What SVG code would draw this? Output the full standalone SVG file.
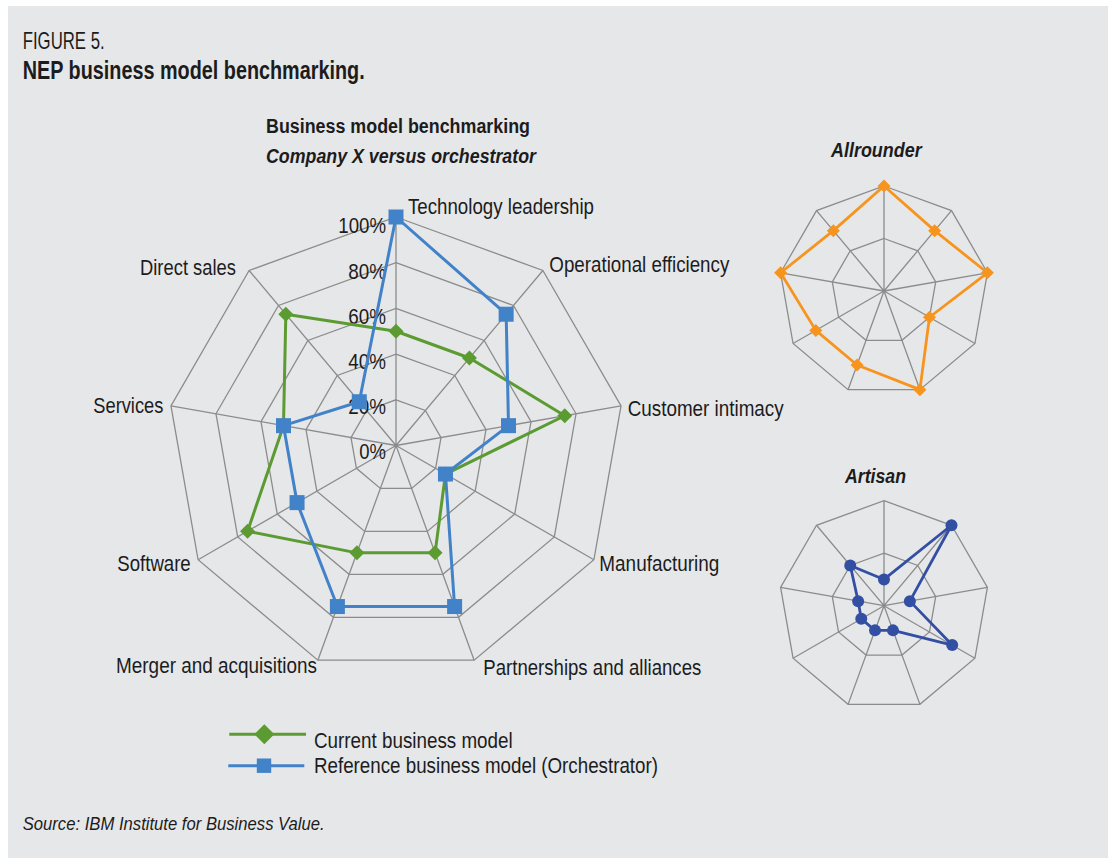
<svg xmlns="http://www.w3.org/2000/svg" xmlns:xlink="http://www.w3.org/1999/xlink" width="1115" height="861" viewBox="0 0 1115 861">
<style>
  text { font-family: "Liberation Sans Narrow", "Liberation Sans", Arial, sans-serif; font-stretch: condensed; fill: #1c1c1c; }
  .lbl { font-size: 22px; }
  .pct { font-size: 22px; text-anchor: end; }
  .sub { font-size: 19.5px; font-weight: bold; }
  .grid { fill: none; stroke: #8c8c8c; stroke-width: 1.3; }
  .gser { fill: none; stroke: #5b9b32; stroke-width: 3; stroke-linejoin: round; }
  .bser { fill: none; stroke: #4282c8; stroke-width: 3; stroke-linejoin: round; }
  .oser { fill: none; stroke: #f7941e; stroke-width: 2.8; stroke-linejoin: round; }
  .aser { fill: none; stroke: #324fa4; stroke-width: 2.8; stroke-linejoin: round; }
</style>
<defs>
  <path id="dia" d="M0,-7.5 L7.5,0 L0,7.5 L-7.5,0 Z" fill="#5b9b32"/>
  <rect id="sq" x="-7.5" y="-7.5" width="15" height="15" fill="#4282c8"/>
  <path id="odia" d="M0,-6.5 L6.5,0 L0,6.5 L-6.5,0 Z" fill="#f7941e"/>
  <circle id="dot" r="6" fill="#324fa4"/>
  <g id="smallgrid" class="grid">
    <polygon points="0,-105 67.49,-80.43 103.40,-18.23 90.93,52.5 35.91,98.67 -35.91,98.67 -90.93,52.5 -103.40,-18.23 -67.49,-80.43"/>
    <polygon points="0,-52.5 33.75,-40.22 51.70,-9.12 45.47,26.25 17.96,49.33 -17.96,49.33 -45.47,26.25 -51.70,-9.12 -33.75,-40.22"/>
    <path d="M0,0 L0,-105 M0,0 L67.49,-80.43 M0,0 L103.40,-18.23 M0,0 L90.93,52.5 M0,0 L35.91,98.67 M0,0 L-35.91,98.67 M0,0 L-90.93,52.5 M0,0 L-103.40,-18.23 M0,0 L-67.49,-80.43"/>
  </g>
</defs>

<rect x="0" y="0" width="1115" height="861" fill="#ffffff"/>
<rect id="panel" x="8" y="6" width="1100" height="852" fill="#e6e7e9"/>

<g id="titles">
  <text x="22.7" y="49" font-size="24" textLength="82" lengthAdjust="spacingAndGlyphs">FIGURE 5.</text>
  <text x="22.7" y="78.5" font-size="25" font-weight="bold" textLength="342" lengthAdjust="spacingAndGlyphs">NEP business model benchmarking.</text>
  <text class="sub" x="266" y="133.3" textLength="264" lengthAdjust="spacingAndGlyphs">Business model benchmarking</text>
  <text class="sub" x="266" y="163.3" font-style="italic" textLength="270" lengthAdjust="spacingAndGlyphs">Company X versus orchestrator</text>
</g>

<g id="main-radar">
  <g id="main-grid" class="grid">
    <polygon points="396,217 542.88,270.46 621.03,405.82 593.89,559.75 474.15,660.22 317.85,660.22 198.11,559.75 170.97,405.82 249.12,270.46"/>
    <polygon points="396,262.7 513.50,305.47 576.02,413.76 554.31,536.9 458.52,617.28 333.48,617.28 237.69,536.9 215.98,413.76 278.50,305.47"/>
    <polygon points="396,308.4 484.13,340.48 531.02,421.69 514.73,514.05 442.89,574.33 349.11,574.33 277.27,514.05 260.98,421.69 307.87,340.48"/>
    <polygon points="396,354.1 454.75,375.48 486.01,429.63 475.16,491.2 427.26,531.39 364.74,531.39 316.84,491.2 305.99,429.63 337.25,375.48"/>
    <polygon points="396,399.8 425.38,410.49 441.01,437.56 435.58,468.35 411.63,488.44 380.37,488.44 356.42,468.35 350.99,437.56 366.62,410.49"/>
    <path d="M396,445.5 L396,217 M396,445.5 L542.88,270.46 M396,445.5 L621.03,405.82 M396,445.5 L593.89,559.75 M396,445.5 L474.15,660.22 M396,445.5 L317.85,660.22 M396,445.5 L198.11,559.75 M396,445.5 L170.97,405.82 M396,445.5 L249.12,270.46"/>
  </g>
  <g id="pct-labels">
    <text class="pct" x="386" y="233.3" textLength="47.7" lengthAdjust="spacingAndGlyphs">100%</text>
    <text class="pct" x="386" y="278.5" textLength="37.7" lengthAdjust="spacingAndGlyphs">80%</text>
    <text class="pct" x="386" y="323.7" textLength="37.7" lengthAdjust="spacingAndGlyphs">60%</text>
    <text class="pct" x="386" y="369" textLength="37.7" lengthAdjust="spacingAndGlyphs">40%</text>
    <text class="pct" x="386" y="414.2" textLength="37.7" lengthAdjust="spacingAndGlyphs">20%</text>
    <text class="pct" x="386" y="459.4" textLength="26.7" lengthAdjust="spacingAndGlyphs">0%</text>
  </g>
  <g id="series-current">
    <polygon class="gser" points="396,331.25 469.44,357.98 564.77,415.74 445.47,474.06 435.08,552.86 356.92,552.86 247.59,531.19 283.49,425.66 285.84,314.22"/>
    <use href="#dia" x="396" y="331.25"/>
    <use href="#dia" x="469.44" y="357.98"/>
    <use href="#dia" x="564.77" y="415.74"/>
    <use href="#dia" x="445.47" y="474.06"/>
    <use href="#dia" x="435.08" y="552.86"/>
    <use href="#dia" x="356.92" y="552.86"/>
    <use href="#dia" x="247.59" y="531.19"/>
    <use href="#dia" x="283.49" y="425.66"/>
    <use href="#dia" x="285.84" y="314.22"/>
  </g>
  <g id="series-reference">
    <polygon class="bser" points="396,217 506.16,314.22 508.51,425.66 445.47,474.06 454.61,606.54 337.39,606.54 297.06,502.63 283.49,425.66 359.28,401.74"/>
    <use href="#sq" x="396" y="217"/>
    <use href="#sq" x="506.16" y="314.22"/>
    <use href="#sq" x="508.51" y="425.66"/>
    <use href="#sq" x="445.47" y="474.06"/>
    <use href="#sq" x="454.61" y="606.54"/>
    <use href="#sq" x="337.39" y="606.54"/>
    <use href="#sq" x="297.06" y="502.63"/>
    <use href="#sq" x="283.49" y="425.66"/>
    <use href="#sq" x="359.28" y="401.74"/>
  </g>
  <g id="axis-labels">
    <text class="lbl" x="408" y="214" textLength="186" lengthAdjust="spacingAndGlyphs">Technology leadership</text>
    <text class="lbl" x="549.3" y="271.7" textLength="180" lengthAdjust="spacingAndGlyphs">Operational efficiency</text>
    <text class="lbl" x="627.7" y="416" textLength="156" lengthAdjust="spacingAndGlyphs">Customer intimacy</text>
    <text class="lbl" x="599.3" y="570.7" textLength="120" lengthAdjust="spacingAndGlyphs">Manufacturing</text>
    <text class="lbl" x="483.3" y="675" textLength="218" lengthAdjust="spacingAndGlyphs">Partnerships and alliances</text>
    <text class="lbl" x="116" y="673.3" textLength="201" lengthAdjust="spacingAndGlyphs">Merger and acquisitions</text>
    <text class="lbl" x="117.3" y="570.7" textLength="73.4" lengthAdjust="spacingAndGlyphs">Software</text>
    <text class="lbl" x="93.3" y="412.7" textLength="70" lengthAdjust="spacingAndGlyphs">Services</text>
    <text class="lbl" x="140" y="275" textLength="96" lengthAdjust="spacingAndGlyphs">Direct sales</text>
  </g>
</g>

<g id="allrounder">
  <text class="sub" x="831" y="156.7" font-style="italic" textLength="90.7" lengthAdjust="spacingAndGlyphs">Allrounder</text>
  <g transform="translate(884,291)">
    <use href="#smallgrid"/>
    <polygon class="oser" points="0,-105 50.62,-60.33 103.40,-18.23 45.47,26.25 35.91,98.67 -26.93,74.0 -68.20,39.375 -103.40,-18.23 -50.62,-60.33"/>
    <use href="#odia" x="0" y="-105"/>
    <use href="#odia" x="50.62" y="-60.33"/>
    <use href="#odia" x="103.40" y="-18.23"/>
    <use href="#odia" x="45.47" y="26.25"/>
    <use href="#odia" x="35.91" y="98.67"/>
    <use href="#odia" x="-26.93" y="74.0"/>
    <use href="#odia" x="-68.20" y="39.375"/>
    <use href="#odia" x="-103.40" y="-18.23"/>
    <use href="#odia" x="-50.62" y="-60.33"/>
  </g>
</g>

<g id="artisan">
  <text class="sub" x="845" y="482.7" font-style="italic" textLength="61" lengthAdjust="spacingAndGlyphs">Artisan</text>
  <g transform="translate(884,605.7)">
    <use href="#smallgrid"/>
    <polygon class="aser" points="0,-26.25 67.49,-80.43 25.85,-4.56 68.20,39.375 8.98,24.67 -8.98,24.67 -22.73,13.125 -25.85,-4.56 -33.75,-40.22"/>
    <use href="#dot" x="0" y="-26.25"/>
    <use href="#dot" x="67.49" y="-80.43"/>
    <use href="#dot" x="25.85" y="-4.56"/>
    <use href="#dot" x="68.20" y="39.375"/>
    <use href="#dot" x="8.98" y="24.67"/>
    <use href="#dot" x="-8.98" y="24.67"/>
    <use href="#dot" x="-22.73" y="13.125"/>
    <use href="#dot" x="-25.85" y="-4.56"/>
    <use href="#dot" x="-33.75" y="-40.22"/>
  </g>
</g>

<g id="legend">
  <line x1="229.3" y1="734.3" x2="306" y2="734.3" stroke="#5b9b32" stroke-width="3"/>
  <path d="M264.3,724.3 L274.3,734.3 L264.3,744.3 L254.3,734.3 Z" fill="#5b9b32"/>
  <text class="lbl" x="314" y="748.3" textLength="198.7" lengthAdjust="spacingAndGlyphs">Current business model</text>
  <line x1="228.3" y1="765.7" x2="304.3" y2="765.7" stroke="#4282c8" stroke-width="3"/>
  <rect x="256.8" y="758.5" width="14.4" height="14.4" fill="#4282c8"/>
  <text class="lbl" x="314" y="772.7" textLength="344" lengthAdjust="spacingAndGlyphs">Reference business model (Orchestrator)</text>
</g>

<g id="source">
  <text x="22.7" y="829.5" font-size="18" font-style="italic" textLength="302" lengthAdjust="spacingAndGlyphs">Source: IBM Institute for Business Value.</text>
</g>
</svg>
